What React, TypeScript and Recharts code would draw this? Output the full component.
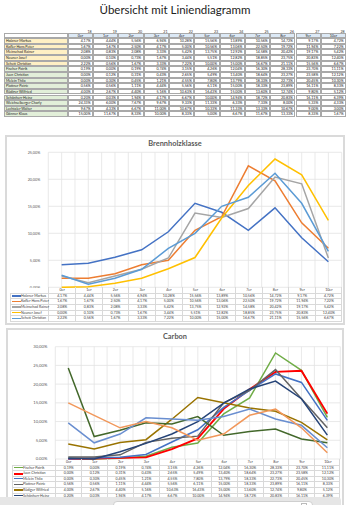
import React from 'react';
import { LineChart, Line, XAxis, YAxis, CartesianGrid } from 'recharts';

const categories = ['0er', '1er', '2er', '3er', '4er', '5er', '6er', '7er', '8er', '9er', '10er'];
const columnNumbers = ['18', '19', '20', '21', '22', '23', '24', '25', '26', '27', '28'];

// Brennholzklasse (Prozent)
const holzner = [4.17, 4.44, 5.56, 6.94, 10.28, 15.56, 13.89, 10.56, 14.72, 9.17, 4.72];
const kofler = [1.67, 1.67, 2.5, 4.17, 5.0, 10.56, 13.06, 22.5, 19.72, 11.94, 7.22];
const meinschad = [2.08, 0.83, 2.08, 3.33, 5.42, 13.75, 12.92, 14.58, 20.42, 19.17, 5.42];
const neuner = [0.0, 0.1, 0.73, 1.67, 3.44, 5.51, 12.82, 18.85, 23.75, 20.83, 12.4];
const schett = [2.22, 0.56, 1.67, 3.33, 7.22, 10.0, 15.0, 16.67, 21.11, 15.56, 6.67];

// Carbon (Prozent)
const fischer = [0.19, 0.0, 0.19, 0.74, 3.15, 4.26, 12.04, 16.3, 28.33, 23.7, 11.11];
const juen = [0.0, 0.12, 0.31, 0.43, 2.65, 5.49, 13.4, 18.64, 23.27, 23.58, 12.12];
const melein = [0.0, 0.3, 0.45, 1.21, 4.55, 7.8, 13.79, 18.33, 22.73, 20.45, 10.3];
const plattner = [0.56, 0.56, 1.11, 4.44, 5.56, 6.11, 15.0, 18.33, 23.89, 16.11, 8.33];
const ruediger = [4.0, 2.67, 4.4, 5.16, 10.63, 16.43, 15.0, 13.6, 12.74, 9.8, 5.12];
const schoenherr = [0.2, 0.03, 1.94, 4.17, 6.67, 10.0, 14.94, 18.72, 20.83, 16.11, 6.39];
const weichselberger = [24.33, 6.0, 7.67, 9.67, 9.33, 11.33, 6.33, 7.33, 8.0, 5.33, 4.33];
const lechtaler = [9.67, 4.33, 6.67, 11.0, 10.67, 10.33, 11.33, 13.33, 10.67, 9.0, 3.0];
const goenner = [15.0, 11.67, 8.33, 10.0, 8.33, 5.0, 6.67, 11.67, 13.33, 8.33, 1.67];

const brennTicks = [0, 5, 10, 15, 20, 25];
const carbonTicks = [0, 5, 10, 15, 20, 25, 30];

type Series = { name: string; values: number[]; color: string; width?: number };

const brennSeries: Series[] = [
  { name: 'Holzner Markus', values: holzner, color: '#4472c4' },
  { name: 'Kofler Hans Peter', values: kofler, color: '#ed7d31' },
  { name: 'Meinschad Rainer', values: meinschad, color: '#a5a5a5' },
  { name: 'Neuner Josef', values: neuner, color: '#ffc000' },
  { name: 'Schett Christian', values: schett, color: '#5b9bd5' },
];

const carbonSeries: Series[] = [
  { name: 'Fischer Patrik', values: fischer, color: '#70ad47' },
  { name: 'Juen Christian', values: juen, color: '#ff0000', width: 1.9 },
  { name: 'Melein Thilo', values: melein, color: '#4472c4' },
  { name: 'Plattner Patric', values: plattner, color: '#636363' },
  { name: 'Rüdiger Wilfried', values: ruediger, color: '#997300' },
  { name: 'Schönherr Heinz', values: schoenherr, color: '#264478' },
  { name: 'Weichselberger Charly', values: weichselberger, color: '#43682b' },
  { name: 'Lechtaler Walter', values: lechtaler, color: '#698ed0' },
  { name: 'Gönner Klaus', values: goenner, color: '#f1975a' },
];

const pct = (v: number) => v.toFixed(2).replace('.', ',') + '%';
const pct2 = (v: number) => pct(v * 100);
const font = 'Lato, "Open Sans", sans-serif';

function TopTable() {
  const rows = [...brennSeries, ...carbonSeries];
  const left = 4;
  const nameW = 64.3;
  const colW = 25.3;
  const rowH = 5.64;
  const top = 38.6;
  const cell = (x: number, y: number, w: number, h: number): React.CSSProperties => ({
    position: 'absolute', left: x, top: y, width: w, height: h, boxSizing: 'border-box',
    border: '1px solid #a9a9a9', marginLeft: -0.5, marginTop: -0.5, fontSize: 3.6, lineHeight: `${h - 1}px`,
    color: '#222', overflow: 'hidden', whiteSpace: 'nowrap',
  });
  return (
    <>
      {columnNumbers.map((n, i) => (
        <div key={'n' + i} style={{ position: 'absolute', left: left + nameW + i * colW, top: 29, width: colW - 2, textAlign: 'right', fontSize: 3.6, color: '#333' }}>{n}</div>
      ))}
      <div style={cell(left, top - 5.4, nameW, 5.4)} />
      {categories.map((c, i) => (
        <div key={'h' + i} style={{ ...cell(left + nameW + i * colW, top - 5.4, colW, 5.4), background: '#dce9f6', textAlign: 'center' }}>{c}</div>
      ))}
      {rows.map((r, ri) => (
        <React.Fragment key={r.name}>
          <div style={{ ...cell(left, top + ri * rowH, nameW, rowH), background: ri < 5 ? '#fff0c4' : '#e2efd9', paddingLeft: 1.5 }}>{r.name}</div>
          {r.values.map((v, i) => (
            <div key={i} style={{ ...cell(left + nameW + i * colW, top + ri * rowH, colW, rowH), textAlign: 'right', paddingRight: 1.5 }}>{pct(v)}</div>
          ))}
        </React.Fragment>
      ))}
    </>
  );
}

type BlockProps = {
  title: string; series: Series[]; ticks: number[]; tableRows: number;
  boxLeft: number; boxTop: number; boxWidth: number; boxHeight: number;
  titleY: number; plotTop: number; plotBottom: number; plotLeft: number; plotRight: number;
  tableLeft: number; tickSize: number;
};

function ChartBlock(p: BlockProps) {
  const data = categories.map((c, i) => {
    const row: Record<string, number | string> = { cat: c };
    p.series.forEach((s) => { row[s.name] = s.values[i] / 100; });
    return row;
  });
  const yAxisW = 40;
  const height = p.plotBottom - p.boxTop + 1;
  const band = (p.plotRight - p.plotLeft) / categories.length;
  const rowH = 5.6;
  const tTop = p.plotBottom;
  const line = '1px solid #d9d9d9';
  // nur die Zeilen, die im Bild noch sichtbar sind
  const shown = p.series.slice(0, p.tableRows);
  const tH = rowH * (shown.length + 1);
  return (
    <>
      <div style={{ position: 'absolute', left: p.boxLeft, top: p.boxTop, width: p.boxWidth, height: p.boxHeight, border: '2px solid #dadada', boxSizing: 'border-box', background: '#fff' }} />
      <div style={{ position: 'absolute', left: p.boxLeft, width: p.boxWidth, top: p.titleY - 5, textAlign: 'center', fontSize: 7.4, fontWeight: 700, color: '#595959', fontFamily: font }}>{p.title}</div>
      <div style={{ position: 'absolute', left: 0, top: p.boxTop }}>
        <LineChart width={350} height={height} data={data}
          margin={{ top: p.plotTop - p.boxTop, bottom: 1, left: p.plotLeft - yAxisW, right: 350 - p.plotRight }}>
          <CartesianGrid stroke="#e3e3e3" strokeWidth={0.8}
            verticalCoordinatesGenerator={({ offset }: any) =>
              Array.from({ length: categories.length * 2 + 1 }, (_, i) => offset.left + (i * offset.width) / (categories.length * 2))} />
          <XAxis dataKey="cat" hide padding={{ left: band / 2, right: band / 2 }} />
          <YAxis width={yAxisW} domain={[0, p.ticks[p.ticks.length - 1] / 100]} ticks={p.ticks.map((t) => t / 100)}
            tickFormatter={pct2} axisLine={false} tickLine={false} tickMargin={2}
            tick={{ fontSize: p.tickSize, fill: '#595959', fontFamily: font }} interval={0} />
          {p.series.map((s) => (
            <Line key={s.name} dataKey={s.name} stroke={s.color} strokeWidth={s.width ?? 1.5} dot={false} activeDot={false}
              isAnimationActive={false} type="linear" />
          ))}
        </LineChart>
      </div>
      {/* Datentabelle unter dem Diagramm */}
      <div style={{ position: 'absolute', left: p.tableLeft, top: tTop, width: p.plotRight - p.tableLeft, height: tH, fontFamily: font, fontSize: 3.6, color: '#404040' }}>
        {categories.map((c, i) => (
          <div key={c} style={{ position: 'absolute', left: p.plotLeft - p.tableLeft + i * band, top: 0, width: band, height: tH, borderLeft: line, boxSizing: 'border-box' }}>
            <div style={{ height: rowH, lineHeight: `${rowH}px`, textAlign: 'center' }}>{c}</div>
            {shown.map((s) => (
              <div key={s.name} style={{ height: rowH, lineHeight: `${rowH}px`, textAlign: 'center' }}>{pct(s.values[i])}</div>
            ))}
          </div>
        ))}
        <div style={{ position: 'absolute', right: 0, top: 0, height: tH, borderLeft: line }} />
        {shown.map((s, si) => (
          <React.Fragment key={s.name}>
            <div style={{ position: 'absolute', left: 0, right: 0, top: rowH * (si + 1), borderTop: line }} />
            <div style={{ position: 'absolute', left: 1.5, top: rowH * (si + 1) + rowH / 2 - 0.5, width: 9, height: s.width ? 2 : 1.4, background: s.color }} />
            <div style={{ position: 'absolute', left: 11, top: rowH * (si + 1), lineHeight: `${rowH}px`, whiteSpace: 'nowrap' }}>{s.name}</div>
          </React.Fragment>
        ))}
        <div style={{ position: 'absolute', left: 0, top: rowH, height: rowH * shown.length, borderLeft: line }} />
        <div style={{ position: 'absolute', left: 0, right: 0, top: tH, borderTop: line }} />
      </div>
    </>
  );
}

export default function App() {
  return (
    <div style={{ position: 'absolute', left: 0, top: 0, width: 350, height: 505, overflow: 'hidden', background: '#fff', fontFamily: font }}>
      <div style={{ position: 'absolute', left: 0, width: 350, top: 3, textAlign: 'center', fontSize: 11.5, color: '#222' }}>Übersicht mit Liniendiagramm</div>
      <TopTable />
      <ChartBlock title="Brennholzklasse" series={brennSeries} ticks={brennTicks} tableRows={5}
        boxLeft={5} boxTop={135} boxWidth={340} boxHeight={190} titleY={143.5}
        plotTop={152.3} plotBottom={287.3} plotLeft={48.3} plotRight={341.7} tableLeft={10} tickSize={3.8} />
      <ChartBlock title="Carbon" series={carbonSeries} ticks={carbonTicks} tableRows={6}
        boxLeft={6} boxTop={328} boxWidth={338} boxHeight={200} titleY={337}
        plotTop={346.7} plotBottom={459} plotLeft={55.3} plotRight={340.3} tableLeft={12} tickSize={4.2} />
      <div style={{ position: 'absolute', left: 0, top: 497, width: 341, height: 10, background: '#e6e6e6', borderTopRightRadius: 4 }} />
      <div style={{ position: 'absolute', left: 113, top: 501, width: 200, height: 10, background: '#fff', border: '1px solid #cfcfcf', borderRadius: 4, boxSizing: 'border-box' }} />
      <div style={{ position: 'absolute', left: 301, top: 503, width: 6, height: 4, border: '1px solid #bbb', boxSizing: 'border-box' }} />
    </div>
  );
}
